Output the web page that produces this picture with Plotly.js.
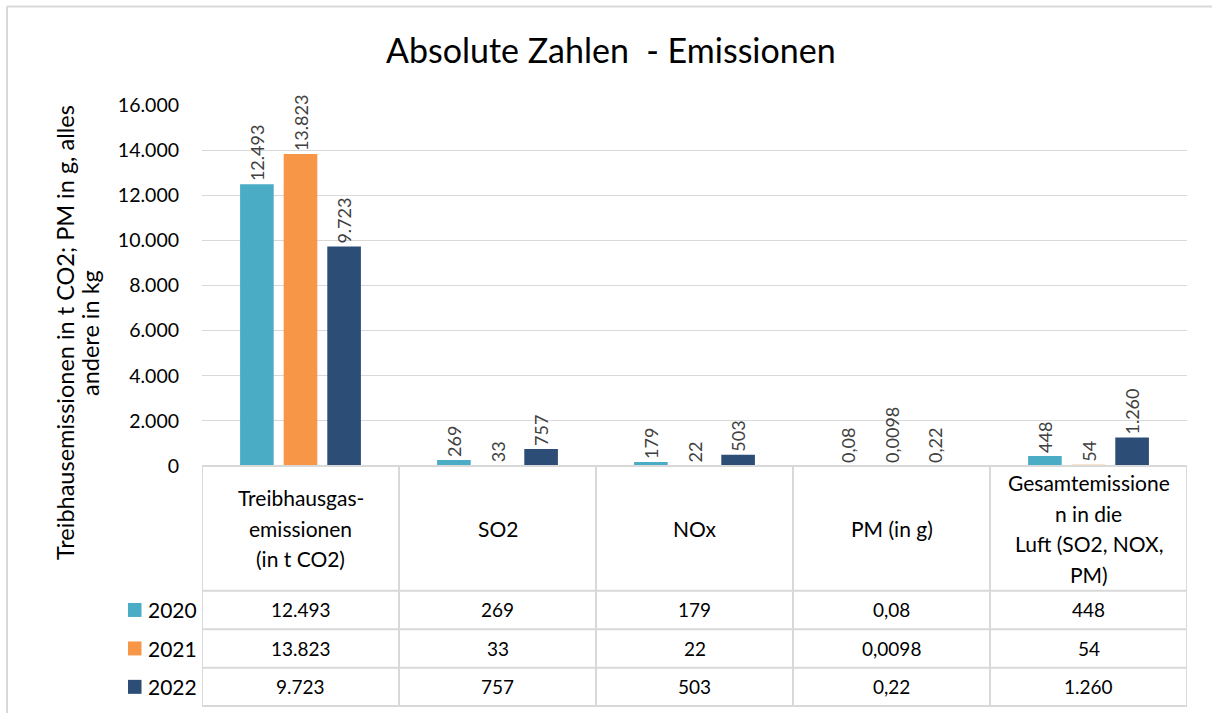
<!DOCTYPE html>
<html>
<head>
<meta charset="utf-8">
<script src="https://cdn.plot.ly/plotly-3.0.1.min.js"></script>
<style>
  html, body { margin: 0; padding: 0; background: #fff; }
  #chart { width: 1212px; height: 713px; }
</style>
</head>
<body>
<div id="chart"></div>
<script>
// ---------- data ----------
const categories = ['THG', 'SO2', 'NOx', 'PM', 'Gesamt'];
const headerLabels = [
  'Treibhausgas-\nemissionen\n(in t CO2)',
  'SO2',
  'NOx',
  'PM (in g)',
  'Gesamtemissione\nn in die\nLuft (SO2, NOX,\nPM)'
];
const years = ['2020', '2021', '2022'];
const values2020 = [12493, 269, 179, 0.08, 448];
const values2021 = [13823, 33, 22, 0.0098, 54];
const values2022 = [9723, 757, 503, 0.22, 1260];
const seriesColors = ['#4BACC6', '#F79646', '#2C4D75'];
const titleText = 'Absolute Zahlen \u00a0- Emissionen';
const yTitleLines = ['Treibhausemissionen in t CO2; PM in g, alles', 'andere in kg'];

const seriesValues = [values2020, values2021, values2022];

// ---------- helpers ----------
function fmt(v) {
  if (Number.isInteger(v)) return String(v).replace(/\B(?=(\d{3})+(?!\d))/g, '.');
  return String(v).replace('.', ',');
}
const W = 1212, H = 713;
const M = { l: 202, r: 25, t: 105, b: 247 };
const plotH = H - M.t - M.b;
const plotW = W - M.l - M.r;
const yp = py => (H - M.b - py) / plotH;          // pixel y -> paper y
const xp = px => (px - M.l) / plotW;              // pixel x -> paper x
const nCat = categories.length;
const xd = px => (px - M.l) / plotW * nCat - 0.5; // pixel x -> data x

const FONT = 'Lato, "Open Sans", sans-serif';
const LINE = '#D9D9D9';

// ---------- traces ----------
const traces = years.map((yr, i) => ({
  type: 'bar',
  name: yr,
  x: categories,
  y: seriesValues[i],
  marker: { color: seriesColors[i] },
  text: seriesValues[i].map(fmt),
  texttemplate: '%{text}',
  textposition: 'outside',
  textangle: -90,
  constraintext: 'none',
  cliponaxis: false,
  textfont: { family: FONT, size: 18, color: '#404040' },
  hoverinfo: 'x+y'
}));

// ---------- table geometry ----------
const rowY = [466, 590.7, 629.2, 667.7, 706]; // header top, row lines
const legendLeftPx = 120;
const shapes = [];
const annotations = [];

// outer chart border
shapes.push({ type: 'line', xref: 'paper', yref: 'paper', x0: xp(7), x1: xp(1230), y0: yp(6.5), y1: yp(6.5), line: { color: LINE, width: 2 } });
shapes.push({ type: 'line', xref: 'paper', yref: 'paper', x0: xp(7), x1: xp(7), y0: yp(6.5), y1: yp(730), line: { color: LINE, width: 2 } });

// horizontal table lines
shapes.push({ type: 'line', xref: 'x', yref: 'paper', x0: -0.5, x1: nCat - 0.5, y0: yp(rowY[0]), y1: yp(rowY[0]), line: { color: LINE, width: 2 } });
for (let k = 1; k < rowY.length; k++) {
  shapes.push({ type: 'line', xref: 'x', yref: 'paper', x0: xd(legendLeftPx), x1: nCat - 0.5, y0: yp(rowY[k]), y1: yp(rowY[k]), line: { color: LINE, width: 2 } });
}
// vertical table lines
for (let c = 0; c <= nCat; c++) {
  shapes.push({ type: 'line', xref: 'x', yref: 'paper', x0: c - 0.5, x1: c - 0.5, y0: yp(rowY[0]), y1: yp(rowY[4]), line: { color: LINE, width: 2 } });
}
shapes.push({ type: 'line', xref: 'x', yref: 'paper', x0: xd(legendLeftPx), x1: xd(legendLeftPx), y0: yp(rowY[1]), y1: yp(rowY[4]), line: { color: LINE, width: 2 } });

// header texts (one annotation per line)
const headerCenter = (rowY[0] + rowY[1]) / 2;
const headerLineGap = 30.5;
headerLabels.forEach((lbl, c) => {
  const lines = lbl.split('\n');
  lines.forEach((ln, k) => {
    const py = headerCenter + (k - (lines.length - 1) / 2) * headerLineGap;
    annotations.push({
      xref: 'x', yref: 'paper', x: categories[c], y: yp(py),
      text: ln, showarrow: false, xanchor: 'center', yanchor: 'middle',
      font: { family: FONT, size: 21, color: '#000' }
    });
  });
});

// value rows + legend keys
years.forEach((yr, r) => {
  const cy = (rowY[r + 1] + rowY[r + 2]) / 2;
  seriesValues[r].forEach((v, c) => {
    annotations.push({
      xref: 'x', yref: 'paper', x: categories[c], y: yp(cy),
      text: fmt(v), showarrow: false, xanchor: 'center', yanchor: 'middle',
      font: { family: FONT, size: 19, color: '#000' }
    });
  });
  shapes.push({
    type: 'rect', xref: 'paper', yref: 'paper',
    x0: xp(128), x1: xp(141.5), y0: yp(cy - 7), y1: yp(cy + 7),
    fillcolor: seriesColors[r], line: { width: 0 }
  });
  annotations.push({
    xref: 'paper', yref: 'paper', x: xp(146), y: yp(cy),
    text: yr, showarrow: false, xanchor: 'left', yanchor: 'middle',
    font: { family: FONT, size: 21, color: '#000' }
  });
});

// y-axis title (one annotation per line)
const yTitleX = [65, 90];
yTitleLines.forEach((ln, k) => {
  annotations.push({
    xref: 'paper', yref: 'paper', x: xp(yTitleX[k]), y: yp(333),
    text: ln, showarrow: false, textangle: -90,
    xanchor: 'center', yanchor: 'middle',
    font: { family: FONT, size: 23.5, color: '#000' }
  });
});

const layout = {
  width: W, height: H,
  margin: M,
  paper_bgcolor: '#fff', plot_bgcolor: '#fff',
  separators: ',.',
  showlegend: false,
  barmode: 'group',
  bargap: 0.336,
  bargroupgap: 0.229,
  title: {
    text: titleText,
    x: 0.504, xref: 'container', xanchor: 'center',
    y: 1 - 51 / H, yref: 'container', yanchor: 'middle',
    font: { family: FONT, size: 34, color: '#000' }
  },
  xaxis: {
    type: 'category',
    range: [-0.5, nCat - 0.5],
    showticklabels: false, showgrid: false, zeroline: false, showline: false, ticks: ''
  },
  yaxis: {
    range: [0, 16000], dtick: 2000, tickformat: ',d',
    showgrid: true, gridcolor: LINE, gridwidth: 1,
    zeroline: false, showline: false, ticks: '',
    ticklabelstandoff: 22,
    tickfont: { family: FONT, size: 19.5, color: '#000' }
  },
  shapes: shapes,
  annotations: annotations
};

Plotly.newPlot('chart', traces, layout, { displayModeBar: false, staticPlot: true });
</script>
</body>
</html>
